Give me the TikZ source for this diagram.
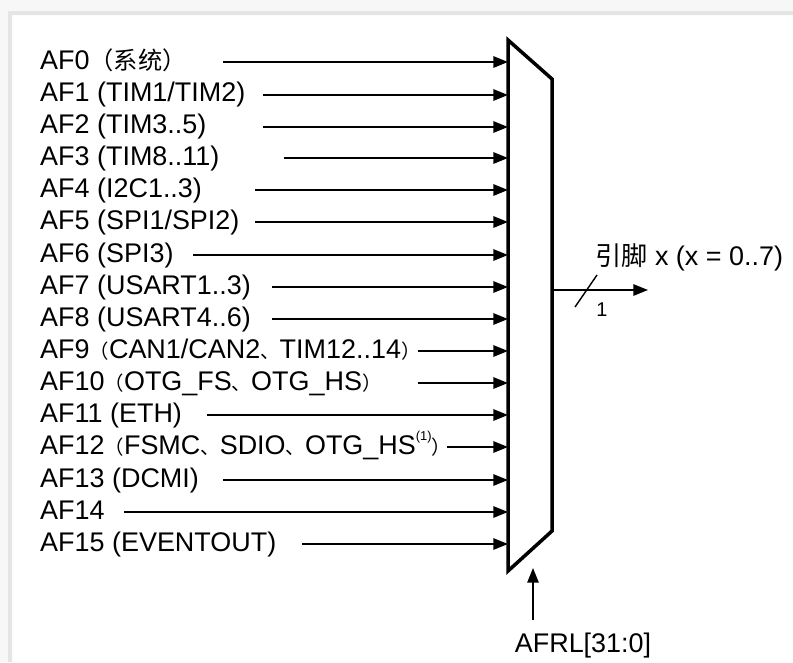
\documentclass[tikz,border=0pt]{standalone}
\usepackage{fontspec}
\setmainfont{Liberation Sans}
\newfontfamily\cjk[Scale=0.97]{Noto Sans CJK SC}
\newfontfamily\cjks[Scale=0.9]{Noto Sans CJK SC}
\newfontfamily\cjkp[Scale=0.72]{Noto Sans CJK SC}
\usetikzlibrary{positioning,arrows.meta,calc}

\begin{document}
\begin{tikzpicture}[
    x=0.03cm, y=-0.03cm,
    lbl/.style={anchor=base west, inner sep=0pt, font=\fontsize{23}{27}\selectfont},
    inarrow/.style={line width=1.6pt, -{Triangle[length=0.44cm, width=0.34cm]}},
    mux/.style={line width=3pt, line join=miter},
]
\useasboundingbox (0,0) rectangle (793,662);

% Frame of the screenshot
\fill[gray!6] (0,0) rectangle (793,15);
\fill[gray!6] (0,0) rectangle (12,662);
\fill[gray!20] (8,662) rectangle (12,11) -- (793,11) -- (793,15) -- (8,15);

% Multiplexer
\coordinate (mux-tl) at (508,40);
\coordinate (mux-tr) at (552,79);
\coordinate (mux-br) at (552,531);
\coordinate (mux-bl) at (508,571);
\draw[mux] (mux-tl) -- (mux-tr) -- (mux-br) -- (mux-bl) -- cycle;

% Inputs
\node[lbl] (af0) at (40,69) {AF0{\cjks（系统）}};
\node[lbl] (af1) at (40,101) {AF1 (TIM1/TIM2)};
\node[lbl] (af2) at (40,133) {AF2 (TIM3..5)};
\node[lbl] (af3) at (40,165) {AF3 (TIM8..11)};
\node[lbl] (af4) at (40,197) {AF4 (I2C1..3)};
\node[lbl] (af5) at (40,229) {AF5 (SPI1/SPI2)};
\node[lbl] (af6) at (40,262) {AF6 (SPI3)};
\node[lbl] (af7) at (40,294) {AF7 (USART1..3)};
\node[lbl] (af8) at (40,326) {AF8 (USART4..6)};
\node[lbl] (af9) at (40,358) {AF9{\cjkp（}CAN1/CAN2{\cjkp 、}TIM12..14{\cjkp）}};
\node[lbl] (af10) at (40,390) {AF10{\cjkp（}OTG\_FS{\cjkp 、}OTG\_HS{\cjkp）}};
\node[lbl] (af11) at (40,422) {AF11 (ETH)};
\node[lbl] (af12) at (40,454) {AF12{\cjkp（}FSMC{\cjkp 、}SDIO{\cjkp 、}OTG\_HS\raisebox{0.5em}{\fontsize{11}{12}\selectfont(1)}{\cjkp）}};
\node[lbl] (af13) at (40,487) {AF13 (DCMI)};
\node[lbl] (af14) at (40,519) {AF14};
\node[lbl] (af15) at (40,551) {AF15 (EVENTOUT)};

\coordinate (s0) at (223,62);
\coordinate (s1) at (263,95);
\coordinate (s2) at (263,127);
\coordinate (s3) at (284,158);
\coordinate (s4) at (255,190);
\coordinate (s5) at (255,222);
\coordinate (s6) at (193,255);
\coordinate (s7) at (272,287);
\coordinate (s8) at (272,319);
\coordinate (s9) at (418,351);
\coordinate (s10) at (418,383);
\coordinate (s11) at (207,415);
\coordinate (s12) at (447,447);
\coordinate (s13) at (223,480);
\coordinate (s14) at (124,512);
\coordinate (s15) at (302,544);

\draw[inarrow] (s0) -- (s0 -| mux-tl);
\draw[inarrow] (s1) -- (s1 -| mux-tl);
\draw[inarrow] (s2) -- (s2 -| mux-tl);
\draw[inarrow] (s3) -- (s3 -| mux-tl);
\draw[inarrow] (s4) -- (s4 -| mux-tl);
\draw[inarrow] (s5) -- (s5 -| mux-tl);
\draw[inarrow] (s6) -- (s6 -| mux-tl);
\draw[inarrow] (s7) -- (s7 -| mux-tl);
\draw[inarrow] (s8) -- (s8 -| mux-tl);
\draw[inarrow] (s9) -- (s9 -| mux-tl);
\draw[inarrow] (s10) -- (s10 -| mux-tl);
\draw[inarrow] (s11) -- (s11 -| mux-tl);
\draw[inarrow] (s12) -- (s12 -| mux-tl);
\draw[inarrow] (s13) -- (s13 -| mux-tl);
\draw[inarrow] (s14) -- (s14 -| mux-tl);
\draw[inarrow] (s15) -- (s15 -| mux-tl);

% Output pin
\coordinate (out) at (552,290);
\coordinate (pin) at (648,290);
\draw[inarrow] (out) -- (pin);
\draw[line width=1.2pt] ($(out)+(23,17)$) -- ($(out)+(45,-15)$);
\node[inner sep=0pt, font=\fontsize{17}{19}\selectfont] (width) at ($(out)+(50,20)$) {1};
\node[lbl] (pinlbl) at ($(out)+(43,-25)$) {{\cjk 引脚} x (x = 0..7)};

% Select input
\coordinate (sel) at (533,620);
\coordinate (seltip) at (533,568);
\draw[inarrow] (sel) -- (seltip);
\node[lbl, anchor=base] (afrl) at (583,652) {AFRL[31:0]};

\end{tikzpicture}
\end{document}
